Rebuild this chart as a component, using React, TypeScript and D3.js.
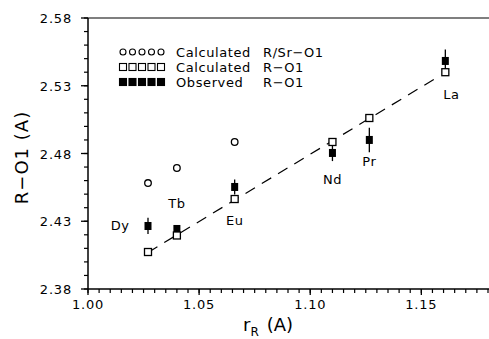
import * as d3 from 'd3';

// ---- data ----
const elements = ['Dy', 'Tb', 'Eu', 'Nd', 'Pr', 'La'];
const radius = [1.027, 1.040, 1.066, 1.110, 1.1266, 1.1608];

// calculated R/Sr-O1 (only first three)
const calcSrX = [1.027, 1.040, 1.066];
const calcSrY = [2.4582, 2.4693, 2.4885];

// calculated R-O1
const calcR = [2.4073, 2.4195, 2.4464, 2.4885, 2.5062, 2.540];

// observed R-O1 with error
const obsR = [2.4265, 2.4243, 2.4553, 2.4804, 2.490, 2.5483];
const obsErr = [0.006, 0.003, 0.0055, 0.006, 0.009, 0.0085];

// dashed fit line
const fitX = [1.027, 1.157];
const fitY = [2.407, 2.536];

const yTicks = ['2.38', '2.43', '2.48', '2.53', '2.58'];
const xTicks = ['1.00', '1.05', '1.10', '1.15'];

// label offsets (dx, dy) from the point they sit by, in px
const labelPos: Record<string, [number, number]> = {
    Dy: [-28, 4],
    Tb: [0, -21],
    Eu: [0, 26],
    Nd: [0, 31],
    Pr: [0, 26],
    La: [6, 27],
};

const W = 489;
const H = 339;
const margin = { top: 18, right: 1, bottom: 50, left: 88 };
const font = '"DejaVu Sans", Verdana, sans-serif';

const App = () => {
    const x = d3.scaleLinear().domain([1.0, 1.18]).range([margin.left, W - margin.right]);
    const y = d3.scaleLinear().domain([2.38, 2.58]).range([H - margin.bottom, margin.top]);

    const y0 = y(2.38);
    const x0 = x(1.0);

    const yMinor = d3.range(238, 259, 1).map((v) => v / 100);
    const xMinor = d3.range(200, 237, 1).map((v) => v / 200);

    const line = d3.line<number>().x((d, i) => x(fitX[i])).y((d) => y(d));

    const sq = 7;

    return (
        <svg
            width={W}
            height={H}
            style={{ position: 'absolute', left: 0, top: 0, background: '#fff' }}
            fontFamily={font}
        >
            {/* frame (right side is faded out in the original) */}
            <line x1={x0} x2={W} y1={y(2.58)} y2={y(2.58)} stroke="#000" strokeWidth={1.2} />
            <line x1={x0} x2={x0} y1={y(2.58)} y2={y0} stroke="#000" strokeWidth={1.5} />
            <line x1={x0} x2={W} y1={y0} y2={y0} stroke="#000" strokeWidth={1.5} />

            {/* y ticks */}
            {yMinor.map((v) => (
                <line key={'ym' + v} x1={x0 - 4} x2={x0} y1={y(v)} y2={y(v)} stroke="#000" strokeWidth={1.2} />
            ))}
            {yTicks.map((t) => (
                <g key={'y' + t}>
                    <line x1={x0 - 7} x2={x0} y1={y(+t)} y2={y(+t)} stroke="#000" strokeWidth={1.3} />
                    <text x={x0 - 16} y={y(+t) + 5} textAnchor="end" fontSize={13} letterSpacing={0.8}>
                        {t}
                    </text>
                </g>
            ))}

            {/* x ticks */}
            {xMinor.map((v) => (
                <line key={'xm' + v} x1={x(v)} x2={x(v)} y1={y0} y2={y0 + 4} stroke="#000" strokeWidth={1.2} />
            ))}
            {xTicks.map((t) => (
                <g key={'x' + t}>
                    <line x1={x(+t)} x2={x(+t)} y1={y0} y2={y0 + 6} stroke="#000" strokeWidth={1.3} />
                    <text x={x(+t)} y={y0 + 20} textAnchor="middle" fontSize={13} letterSpacing={0.8}>
                        {t}
                    </text>
                </g>
            ))}

            {/* axis titles */}
            <text
                transform={`translate(28, ${(y(2.58) + y0) / 2 + 4}) rotate(-90)`}
                textAnchor="middle"
                fontSize={18}
                letterSpacing={1}
            >
                R−O1 (A)
            </text>
            <text x={243} y={331} fontSize={18}>
                r
                <tspan fontSize={12} dy={5}>R</tspan>
                <tspan fontSize={18} dy={-5} dx={8}>(A)</tspan>
            </text>

            {/* fit line */}
            <path d={line(fitY) || ''} fill="none" stroke="#000" strokeWidth={1.2} strokeDasharray="11 8" />

            {/* calculated R/Sr-O1 */}
            {calcSrX.map((v, i) => (
                <circle key={'c' + i} cx={x(v)} cy={y(calcSrY[i])} r={3.3} fill="#fff" stroke="#000" strokeWidth={1.3} />
            ))}

            {/* error bars + observed */}
            {radius.map((v, i) => (
                <g key={'o' + i}>
                    <line
                        x1={x(v)}
                        x2={x(v)}
                        y1={y(obsR[i] - obsErr[i])}
                        y2={y(obsR[i] + obsErr[i])}
                        stroke="#000"
                        strokeWidth={1.3}
                    />
                    <rect x={x(v) - sq / 2} y={y(obsR[i]) - sq / 2 - 0.5} width={sq} height={sq + 1} fill="#000" />
                </g>
            ))}

            {/* calculated R-O1 */}
            {radius.map((v, i) => (
                <rect
                    key={'s' + i}
                    x={x(v) - sq / 2}
                    y={y(calcR[i]) - sq / 2}
                    width={sq}
                    height={sq}
                    fill="#fff"
                    stroke="#000"
                    strokeWidth={1.3}
                />
            ))}

            {/* element labels */}
            {elements.map((el, i) => {
                const [dx, dy] = labelPos[el];
                const anchorY = el === 'Eu' || el === 'La' ? calcR[i] : obsR[i];
                return (
                    <text
                        key={el}
                        x={x(radius[i]) + dx}
                        y={y(anchorY) + dy}
                        textAnchor="middle"
                        fontSize={13}
                        letterSpacing={0.5}
                    >
                        {el}
                    </text>
                );
            })}

            {/* legend */}
            {[0, 1, 2].map((row) => (
                <g key={'lg' + row} transform={`translate(0, ${52 + row * 15})`}>
                    {d3.range(5).map((k) => {
                        const cx = 123 + k * 9.5;
                        if (row === 0) {
                            return <circle key={k} cx={cx} cy={0} r={3} fill="#fff" stroke="#000" strokeWidth={1.1} />;
                        }
                        return (
                            <rect
                                key={k}
                                x={cx - 3.5}
                                y={-3.5}
                                width={7}
                                height={7}
                                fill={row === 2 ? '#000' : '#fff'}
                                stroke="#000"
                                strokeWidth={1.1}
                            />
                        );
                    })}
                    <text x={176} y={5} fontSize={13} letterSpacing={0.6}>
                        {row === 2 ? 'Observed' : 'Calculated'}
                    </text>
                    <text x={263} y={5} fontSize={13} letterSpacing={0.6}>
                        {row === 0 ? 'R/Sr−O1' : 'R−O1'}
                    </text>
                </g>
            ))}
        </svg>
    );
};

export default App;
